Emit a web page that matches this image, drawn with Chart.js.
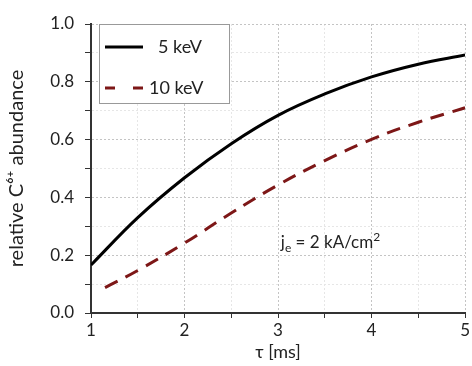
<!DOCTYPE html>
<html>
<head>
<meta charset="utf-8">
<script src="https://cdn.jsdelivr.net/npm/chart.js@4.4.0/dist/chart.umd.min.js"></script>
<style>
  html, body { margin: 0; padding: 0; background: #fff; }
  #wrap { width: 472px; height: 366px; }
</style>
</head>
<body>
<div id="wrap"><canvas id="myChart" width="472" height="366"></canvas></div>
<script>
// tau [ms] and relative C6+ abundance
const tau5 = [1, 1.5, 2, 2.5, 3, 3.5, 4, 4.5, 5];
const abund5 = [0.166, 0.33, 0.468, 0.586, 0.684, 0.758, 0.817, 0.861, 0.893];
const tau10 = [1.15, 1.5, 2, 2.5, 3, 3.5, 4, 4.5, 5];
const abund10 = [0.088, 0.147, 0.242, 0.346, 0.443, 0.527, 0.601, 0.66, 0.71];
const seriesNames = ["5 keV", "10 keV"];
const xTicks = [1, 2, 3, 4, 5];
const yTicks = [0.0, 0.2, 0.4, 0.6, 0.8, 1.0];

const FONT = "Lato, 'Open Sans', sans-serif";
const TXT = "#222";
const RED = "#7d1717";

function pts(xs, ys) {
  return xs.map((x, i) => ({ x: x, y: ys[i] }));
}
function isMajor(v, list) {
  return list.some(t => Math.abs(t - v) < 1e-6);
}

// legend box + current density label drawn inside the plot area
const extras = {
  id: 'extras',
  afterDatasetsDraw(chart) {
    const ctx = chart.ctx;
    const a = chart.chartArea;
    const ds = chart.data.datasets;
    ctx.save();
    // legend frame
    const bx = a.left + 8, by = a.top, bw = 130, bh = 79;
    ctx.fillStyle = "#fff";
    ctx.fillRect(bx, by, bw, bh);
    ctx.strokeStyle = "#999";
    ctx.lineWidth = 1;
    ctx.strokeRect(bx + 0.5, by + 0.5, bw, bh);
    ctx.font = "18px " + FONT;
    ctx.textBaseline = "middle";
    ctx.fillStyle = TXT;
    // 5 keV
    ctx.strokeStyle = ds[0].borderColor;
    ctx.lineWidth = 3;
    ctx.beginPath();
    ctx.moveTo(bx + 6, by + 23);
    ctx.lineTo(bx + 44, by + 23);
    ctx.stroke();
    ctx.fillText(seriesNames[0], bx + 59, by + 23);
    // 10 keV
    ctx.strokeStyle = ds[1].borderColor;
    ctx.setLineDash([10, 18]);
    ctx.beginPath();
    ctx.moveTo(bx + 6, by + 64);
    ctx.lineTo(bx + 44, by + 64);
    ctx.stroke();
    ctx.setLineDash([]);
    ctx.fillText(seriesNames[1], bx + 50, by + 64);

    // j_e = 2 kA/cm^2
    let x = chart.scales.x.getPixelForValue(3.03);
    const y = chart.scales.y.getPixelForValue(0.225);
    ctx.textBaseline = "alphabetic";
    ctx.font = "17px " + FONT;
    ctx.fillText("j", x, y);
    x += ctx.measureText("j").width;
    ctx.font = "12px " + FONT;
    ctx.fillText("e", x, y + 4);
    x += ctx.measureText("e").width;
    ctx.font = "17px " + FONT;
    ctx.fillText(" = 2 kA/cm", x, y);
    x += ctx.measureText(" = 2 kA/cm").width;
    ctx.font = "12px " + FONT;
    ctx.fillText("2", x, y - 7);
    ctx.restore();
  }
};

const ctx = document.getElementById('myChart');
Chart.defaults.font.family = FONT;
Chart.defaults.color = TXT;

new Chart(ctx, {
  type: 'line',
  data: {
    datasets: [{
      label: seriesNames[0],
      data: pts(tau5, abund5),
      borderColor: "#000",
      borderWidth: 3,
      pointRadius: 0,
      tension: 0.4
    }, {
      label: seriesNames[1],
      data: pts(tau10, abund10),
      borderColor: RED,
      borderWidth: 3,
      borderDash: [14, 9],
      pointRadius: 0,
      tension: 0.4
    }]
  },
  options: {
    responsive: false,
    animation: false,
    layout: { padding: { top: 24, right: 3, left: 0, bottom: 0 } },
    plugins: { legend: { display: false }, tooltip: { enabled: false } },
    scales: {
      x: {
        type: 'linear',
        min: 1, max: 5,
        afterFit(s) { s.height = 53; },
        ticks: {
          stepSize: 0.5,
          padding: 2,
          font: { size: 17 },
          callback: v => isMajor(v, xTicks) ? String(v) : ''
        },
        grid: {
          tickLength: 5,
          color: c => (c.tick && Number.isInteger(c.tick.value)) ? "#c4c4c4" : "#e6e6e6",
          tickColor: "#333"
        },
        border: { color: "#333", width: 2, dash: [2, 2] },
        title: {
          display: true,
          text: "τ [ms]",
          font: { size: 18 },
          padding: { top: 0, bottom: 3 }
        }
      },
      y: {
        min: 0, max: 1,
        afterFit(s) { s.width = 91; },
        ticks: {
          stepSize: 0.1,
          padding: 11,
          font: { size: 17 },
          callback: v => isMajor(v, yTicks) ? v.toFixed(1) : ''
        },
        grid: {
          tickLength: 6,
          color: c => (c.tick && isMajor(c.tick.value, yTicks)) ? "#c4c4c4" : "#e6e6e6",
          tickColor: "#333"
        },
        border: { color: "#333", width: 2, dash: [2, 2] },
        title: {
          display: true,
          text: "relative C⁶⁺ abundance",
          font: { size: 20 },
          padding: { top: 5, bottom: 0 }
        }
      }
    }
  },
  plugins: [extras]
});
</script>
</body>
</html>
